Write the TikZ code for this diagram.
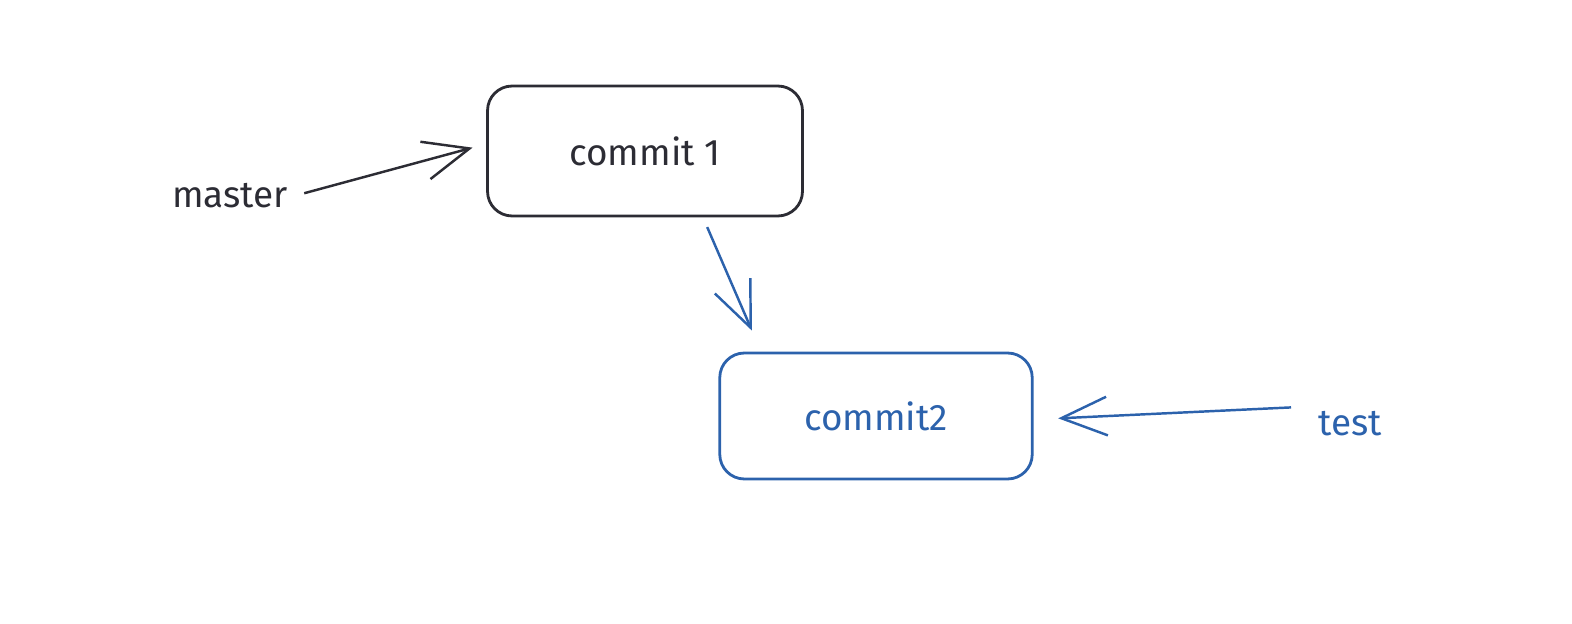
\documentclass[tikz,border=0pt]{standalone}
\usepackage{fontspec}
\setmainfont{Fira Sans}
\definecolor{inkdark}{RGB}{44,44,52}
\definecolor{inkblue}{RGB}{44,98,172}
\usetikzlibrary{arrows.meta, positioning}

\begin{document}
\begin{tikzpicture}[x=0.02cm, y=-0.02cm,
          commitbox/.style={draw, rounded corners=14pt, line width=1.6pt,
              minimum width=6.3cm, minimum height=2.6cm,
              font=\fontsize{21}{24}\selectfont, align=center},
          lbl/.style={font=\fontsize{21}{24}\selectfont},
          arr/.style={-{Straight Barb[length=26pt, width=22pt, line width=1.4pt]}, line width=1.4pt}
        ]
        \useasboundingbox (0,0) rectangle (1572,624);
        \node[commitbox, inkdark] (c1) at (645,151) {commit 1};
        \node[commitbox, inkblue, minimum width=6.25cm, minimum height=2.52cm]
        (c2) at (876,416) {commit2};
        \node[lbl, inkdark] (master) at (230,196) {master};
        \node[lbl, inkblue] (test) at (1350,424) {test};
        \draw[arr, inkdark, shorten <=6pt, shorten >=8pt] (master.east) -- ([yshift=4pt]c1.west);
        \draw[arr, inkblue, shorten <=6pt, shorten >=13pt] ([xshift=1.16cm]c1.south) -- ([xshift=-2.3cm]c2.north);
        \draw[arr, inkblue, shorten <=12pt, shorten >=14pt] ([yshift=10pt]test.west) -- ([yshift=-2pt]c2.east);
\end{tikzpicture}
\end{document}
